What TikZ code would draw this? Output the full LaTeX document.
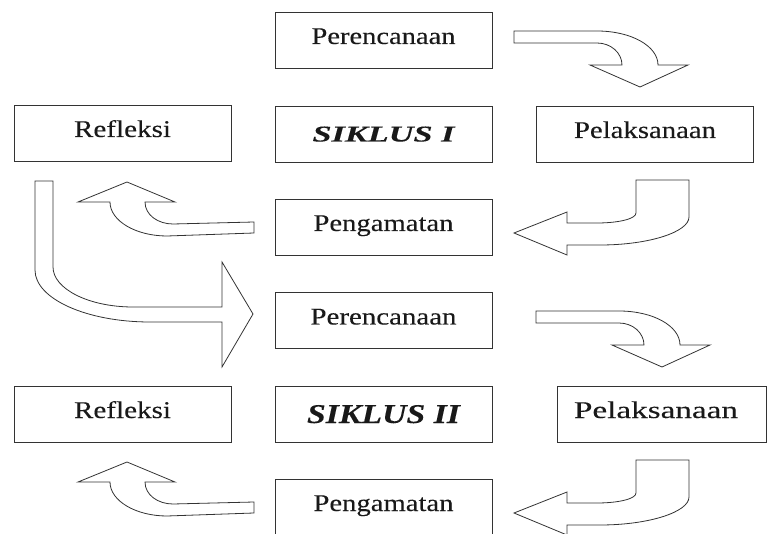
\documentclass[tikz,border=0pt]{standalone}
\usepackage{fontspec}
\setmainfont{Liberation Serif}[FakeBold=0.15]
\usepackage{graphicx}
\newcommand\fitw[2]{\resizebox{#1}{\height}{#2}}
\newcommand\fitwh[3]{\resizebox{#1}{#2}{#3}}
\begin{document}
\begin{tikzpicture}[x=1pt,y=-1pt,
  box/.style={draw=black!80, line width=0.8pt, minimum width=217pt, minimum height=56pt,
    inner sep=0pt, text height=16pt, text depth=8pt, text=black!90, font=\fontsize{24}{26}\selectfont},
  bigarrow/.style={draw=black!80, line width=0.8pt, line join=miter},
  arrowright/.pic={
    \draw[bigarrow] (514,31) -- (597,31) .. controls (631,31) and (658,46) .. (658,65)
      -- (688,65) -- (640,87) -- (590,65) -- (622,65)
      .. controls (622,53) and (611,43) .. (597,43) -- (514,43) -- cycle;
  },
  arrowback/.pic={
    \draw[bigarrow] (636,180) -- (689,180) -- (689,217) .. controls (689,232) and (649,245) .. (600,245)
      -- (567,245) -- (567,255) -- (514,233) -- (567,212) -- (567,223) -- (597,223)
      .. controls (618,223) and (636,219) .. (636,213) -- cycle;
  },
  arrowup/.pic={
    \draw[bigarrow] (254,222) -- (173,224) .. controls (158,224) and (145,215) .. (145,202)
      -- (175,202) -- (127,182) -- (78,202) -- (110,202)
      .. controls (110,221) and (136,236) .. (167,236) -- (254,233) -- cycle;
  }]
\useasboundingbox (0,0) rectangle (768,534);

% cycle I
\node[box] (per1) at (383.5,40) {\fitw{144pt}{Perencanaan}};
\node[box] (sik1) at (383.5,134) [text height=15pt, text depth=0pt]
  {\fitwh{142pt}{15pt}{\bfseries\itshape SIKLUS I}};
\node[box] (ref1) at (122.5,133) {\fitw{97pt}{Refleksi}};
\node[box] (pel1) at (645,134) {\fitw{142pt}{Pelaksanaan}};
\node[box] (pen1) at (383.5,227) {\fitw{140pt}{Pengamatan}};

% cycle II
\node[box] (per2) at (383.5,320.5) {\fitw{146pt}{Perencanaan}};
\node[box] (sik2) at (383.5,414) [text height=18pt, text depth=0pt]
  {\fitwh{153pt}{18pt}{\bfseries\itshape SIKLUS II}};
\node[box] (ref2) at (122.5,414) {\fitw{97pt}{Refleksi}};
\node[box, minimum width=209pt] (pel2) at (661.5,414) {\fitw{164pt}{Pelaksanaan}\hspace*{11pt}};
\node[box] (pen2) at (383.5,507) {\fitw{140pt}{Pengamatan}};

% block arrows
\pic at (0,0) {arrowright};
\pic at (0,0) {arrowback};
\pic at (0,0) {arrowup};
\pic at (22,280) {arrowright};
\pic at (0,280) {arrowback};
\pic at (0,280) {arrowup};

% long arrow from Refleksi I to Perencanaan II
\draw[bigarrow] (35,181) -- (53,181) -- (53,267) .. controls (53,289) and (89,307) .. (133,307)
  -- (222,307) -- (222,262) -- (253,314) -- (222,367) -- (222,322) -- (150,322)
  .. controls (87,322) and (35,299) .. (35,270) -- cycle;
\end{tikzpicture}
\end{document}
